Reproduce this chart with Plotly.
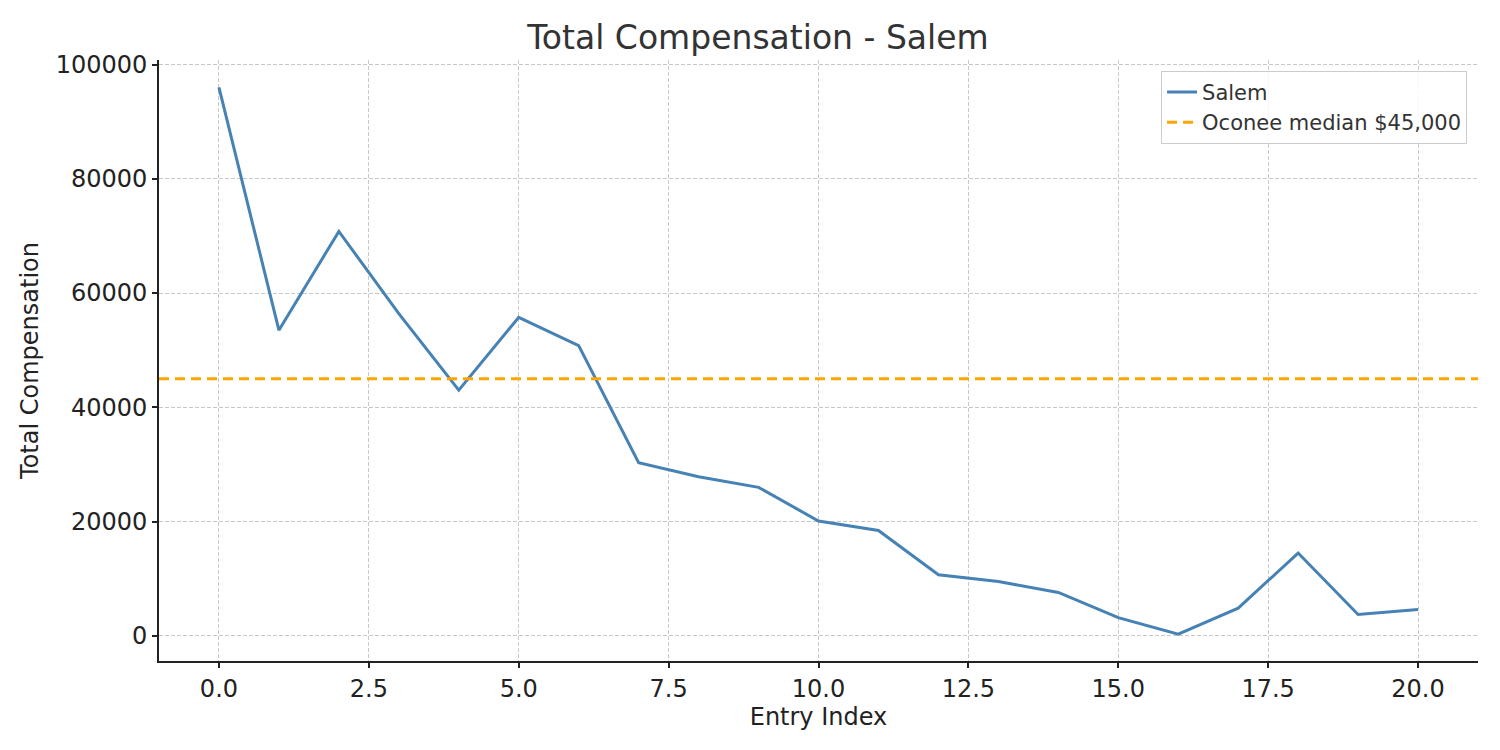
import plotly.graph_objects as go

# values
entry_index = list(range(21))
total_comp = [96000, 53500, 70800, 56400, 43000, 55750, 50800, 30300, 27850, 26000,
              20100, 18450, 10700, 9500, 7600, 3180, 300, 4840, 14500, 3750, 4600]
oconee_median = 45000

x_ticks = [0.0, 2.5, 5.0, 7.5, 10.0, 12.5, 15.0, 17.5, 20.0]
y_ticks = [0, 20000, 40000, 60000, 80000, 100000]

font = "DejaVu Sans"

fig = go.Figure()

fig.add_trace(go.Scatter(
    x=entry_index, y=total_comp, mode="lines", name="Salem",
    line=dict(color="#4682B4", width=3),
))

fig.add_hline(
    y=oconee_median, line=dict(color="#FFA500", width=3, dash="10px,6px"),
    showlegend=True, name="Oconee median $45,000",
)

fig.update_layout(
    width=1500, height=750,
    paper_bgcolor="white", plot_bgcolor="white",
    margin=dict(l=151, r=30, t=52, b=97),
    font=dict(family=font, size=24, color="#222222"),
    title=dict(text="Total Compensation - Salem", x=0.5, xanchor="center",
               y=0.961, yanchor="middle", font=dict(size=33, color="#333333")),
    legend=dict(x=0.9917, y=0.982, xanchor="right", yanchor="top",
                bgcolor="rgba(255,255,255,0.85)", bordercolor="#cccccc", borderwidth=1,
                font=dict(size=21, color="#333333"), tracegroupgap=6),
    showlegend=True,
)

fig.update_xaxes(
    range=[-1, 21], tickvals=x_ticks, ticktext=[f"{v:.1f}" for v in x_ticks],
    title=dict(text="Entry Index", font=dict(size=24), standoff=6),
    showline=True, linecolor="#222222", linewidth=1.8, mirror=False,
    ticks="outside", ticklen=5, tickwidth=1.5, tickcolor="#222222",
    tickfont=dict(size=24),
    showgrid=True, gridcolor="#c8c8c8", griddash="4px,2px", gridwidth=1, zeroline=False,
)
fig.update_yaxes(
    range=[-4400, 100800], tickvals=y_ticks, ticktext=[str(v) for v in y_ticks],
    title=dict(text="Total Compensation", font=dict(size=24), standoff=10),
    showline=True, linecolor="#222222", linewidth=1.8, mirror=False,
    ticks="outside", ticklen=5, tickwidth=1.5, tickcolor="#222222",
    tickfont=dict(size=24),
    showgrid=True, gridcolor="#c8c8c8", griddash="4px,2px", gridwidth=1, zeroline=False,
)

fig.write_html("out.html")
